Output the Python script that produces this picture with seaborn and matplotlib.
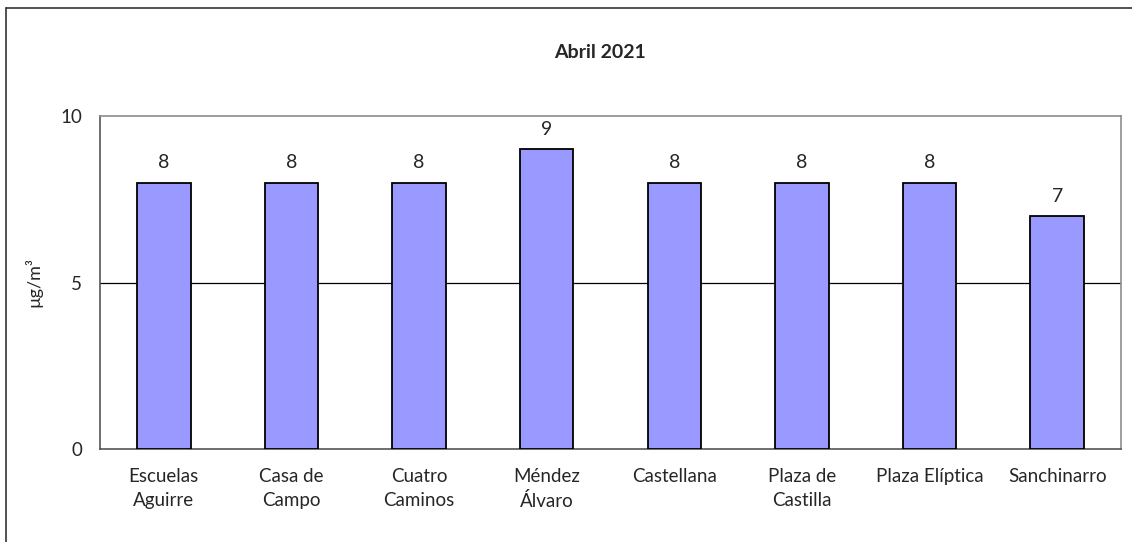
import matplotlib
matplotlib.use("Agg")
import matplotlib.pyplot as plt
import seaborn as sns
import pandas as pd
from matplotlib.lines import Line2D

# === Data ===
stations = [
    "Escuelas\nAguirre",
    "Casa de\nCampo",
    "Cuatro\nCaminos",
    "Méndez\nÁlvaro",
    "Castellana",
    "Plaza de\nCastilla",
    "Plaza Elíptica",
    "Sanchinarro",
]
values = [8, 8, 8, 9, 8, 8, 8, 7]
y_ticks = [0, 5, 10]

TITLE = "Abril 2021"
Y_LABEL = "µg/m³"

sns.set_style("white")
plt.rcParams["font.family"] = ["Lato", "DejaVu Sans"]

df = pd.DataFrame({"Estación": stations, "Valor": values})

fig = plt.figure(figsize=(11.32, 5.42), dpi=100)
ax = fig.add_axes([100 / 1132, 1 - 449 / 542, 1021 / 1132, 333 / 542])

sns.barplot(
    data=df,
    x="Estación",
    y="Valor",
    color="#9999FF",
    saturation=1,
    width=0.42,
    edgecolor="black",
    linewidth=1.3,
    ax=ax,
    zorder=3,
)

ax.set_xlim(-0.5, len(stations) - 0.5)
ax.set_ylim(0, 10)
ax.set_yticks(y_ticks)
ax.set_yticklabels([str(t) for t in y_ticks], fontsize=13.5)
ax.set_xlabel("")
ax.set_ylabel(Y_LABEL, fontsize=13)
ax.yaxis.set_label_coords(-58 / 1021, 0.5)

# gridline at 5
ax.axhline(5, color="black", linewidth=0.9, zorder=1)

# category labels without marks, boundary ticks as minor ticks
ax.set_xticks(range(len(stations)))
ax.set_xticklabels(stations, fontsize=13.5, linespacing=1.45)
ax.tick_params(axis="x", which="major", length=0, pad=14)
ax.set_xticks([i - 0.5 for i in range(len(stations) + 1)], minor=True)
ax.tick_params(axis="x", which="minor", length=6, width=1, color="#555555", direction="out")
ax.tick_params(axis="y", length=5, width=1, color="#555555", direction="out", pad=8)

for side in ["top", "right"]:
    ax.spines[side].set_color("#8c8c8c")
    ax.spines[side].set_linewidth(1.2)
for side in ["left", "bottom"]:
    ax.spines[side].set_color("#555555")
    ax.spines[side].set_linewidth(1.2)

# value labels
for bar, v in zip(ax.patches, values):
    ax.annotate(
        str(v),
        (bar.get_x() + bar.get_width() / 2, bar.get_height()),
        xytext=(0, 8),
        textcoords="offset points",
        ha="center",
        va="bottom",
        fontsize=14,
    )

fig.text(0.53, 1 - 52 / 542, TITLE, ha="center", va="center", fontsize=14, fontweight="bold")

# outer chart frame (left and top edges visible)
fig.add_artist(Line2D([6 / 1132, 6 / 1132], [0, 1 - 8 / 542], transform=fig.transFigure, color="#333333", linewidth=1.2))
fig.add_artist(Line2D([6 / 1132, 1], [1 - 8 / 542, 1 - 8 / 542], transform=fig.transFigure, color="#333333", linewidth=1.2))

fig.savefig("out.png", dpi=100)
